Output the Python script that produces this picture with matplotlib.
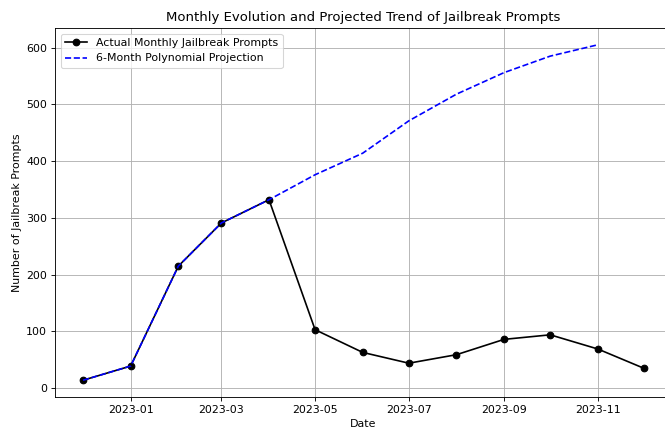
import numpy as np
import pandas as pd
import matplotlib
matplotlib.use("Agg")
import matplotlib.pyplot as plt

# ── Data ──────────────────────────────────────────────────────────────────
actual_dates = pd.date_range("2022-12-01", "2023-12-01", freq="MS")
actual_counts = [14, 39, 215, 291, 332, 103, 63, 44, 59, 86, 94, 69, 35]

proj_dates = pd.date_range("2022-12-01", "2023-11-01", freq="MS")
proj_counts = [14, 39, 215, 291, 332, 376, 414, 471, 518, 556, 585, 605]

DPI = 79.5  # reference looks like a downscaled render
fig = plt.figure(figsize=(665 / DPI, 430 / DPI), dpi=DPI)
# axes runs a little past the right edge, as in the reference
ax = fig.add_axes([55 / 665, 33 / 430, (672 - 55) / 665, (397 - 28) / 430])

ax.plot(actual_dates, actual_counts, color="black", marker="o",
        label="Actual Monthly Jailbreak Prompts")
ax.plot(proj_dates, proj_counts, color="blue", linestyle="--",
        label="6-Month Polynomial Projection")

ax.set_title("Monthly Evolution and Projected Trend of Jailbreak Prompts")
ax.set_xlabel("Date")
ax.set_ylabel("Number of Jailbreak Prompts")
ax.legend(loc="upper left")
ax.grid(True)

fig.savefig("out.png", dpi=DPI)
